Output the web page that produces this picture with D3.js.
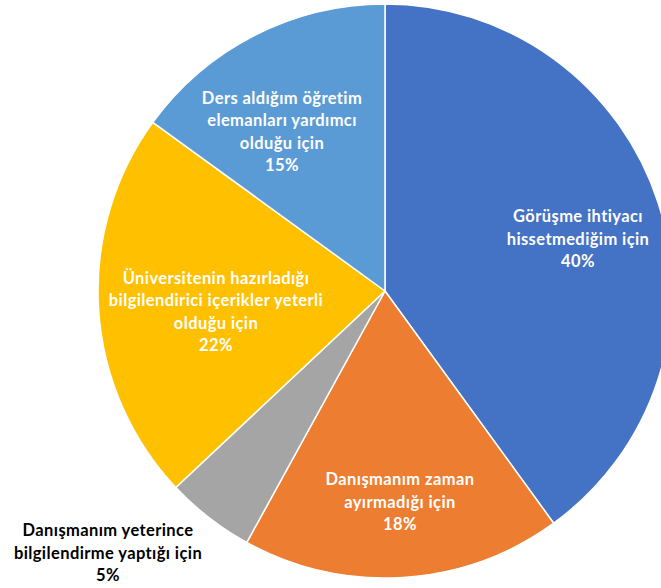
<!DOCTYPE html>
<html>
<head>
<meta charset="utf-8">
<script src="https://cdn.jsdelivr.net/npm/d3@7"></script>
<style>
  html, body { margin: 0; padding: 0; background: #ffffff; }
  svg { display: block; }
</style>
</head>
<body>
<svg id="chart" width="661" height="588"></svg>
<script>
// ---- data ----
const categories = [
  ["Görüşme ihtiyacı", "hissetmediğim için"],
  ["Danışmanım zaman", "ayırmadığı için"],
  ["Danışmanım yeterince", "bilgilendirme yaptığı için"],
  ["Üniversitenin hazırladığı", "bilgilendirici içerikler yeterli", "olduğu için"],
  ["Ders aldığım öğretim", "elemanları yardımcı", "olduğu için"]
];
const values = [40, 18, 5, 22, 15];
const percentLabels = ["40%", "18%", "5%", "22%", "15%"];
const colors = ["#4472C4", "#ED7D31", "#A5A5A5", "#FFC000", "#5B9BD5"];
// label anchor offsets from pie centre (label layout, not data)
const labelOffsets = [[193, -52], [15, 211], [-277, 262], [-169, 21], [-103, -159]];
const labelColors = ["#ffffff", "#ffffff", "#000000", "#ffffff", "#ffffff"];

// ---- layout ----
const cx = 385, cy = 291, R = 287;
const svg = d3.select("#chart");
const g = svg.append("g").attr("transform", `translate(${cx},${cy})`);

const pie = d3.pie().sort(null).value(d => d)(values);
const arc = d3.arc().innerRadius(0).outerRadius(R);

g.selectAll("path.slice")
  .data(pie)
  .join("path")
  .attr("class", "slice")
  .attr("d", arc)
  .attr("fill", (d, i) => colors[i])
  .attr("stroke", "#ffffff")
  .attr("stroke-width", 1.5)
  .attr("stroke-linejoin", "round");

const lineH = 22.5;
const labels = g.selectAll("text.lbl")
  .data(pie)
  .join("text")
  .attr("class", "lbl")
  .attr("text-anchor", "middle")
  .attr("font-family", "Lato, 'Open Sans', sans-serif")
  .attr("font-weight", "bold")
  .attr("font-size", "16.5px")
  .attr("letter-spacing", "0.4px")
  .attr("fill", (d, i) => labelColors[i]);

labels.each(function(d, i) {
  const lines = categories[i].concat([percentLabels[i]]);
  const n = lines.length;
  const [ox, oy] = labelOffsets[i];
  const t = d3.select(this);
  lines.forEach((ln, k) => {
    t.append("tspan")
      .attr("x", ox)
      .attr("y", oy + (k - (n - 1) / 2) * lineH + 5.5)
      .text(ln);
  });
});
</script>
</body>
</html>
